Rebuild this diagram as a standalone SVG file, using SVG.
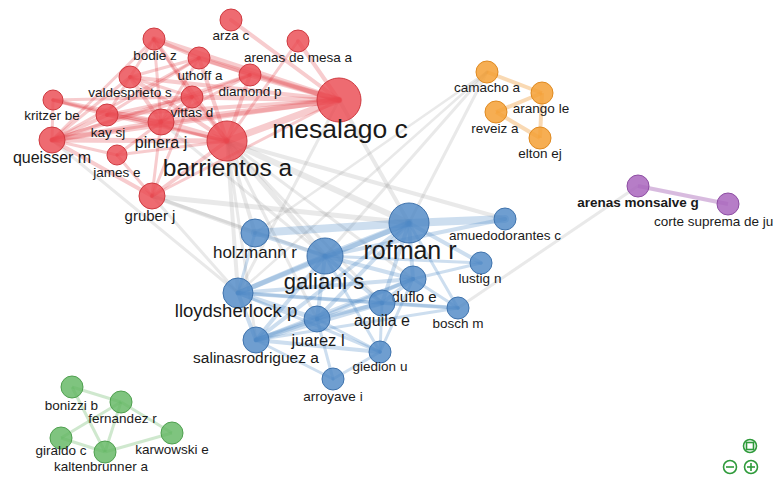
<svg xmlns="http://www.w3.org/2000/svg" width="774" height="479" viewBox="0 0 774 479">
<style>
text{font-family:"Liberation Sans",Arial,sans-serif;fill:#1a1a1a;text-anchor:middle}
.s{font-size:13.5px}
.er{stroke:#e0353c;stroke-opacity:.25;stroke-linecap:round}
.eb{stroke:#4d88c4;stroke-opacity:.28;stroke-linecap:round}
.eg{stroke:#9a9a9a;stroke-opacity:.22;stroke-linecap:round}
.eo{stroke:#f0a040;stroke-opacity:.4;stroke-width:4}
.egr{stroke:#5fb45e;stroke-opacity:.3;stroke-width:3}
.ep{stroke:#a868b8;stroke-opacity:.45;stroke-width:4}
.nr{fill:#ea4a52;fill-opacity:.82;stroke:#cf3a40;stroke-width:1}
.nb{fill:#4f89c6;fill-opacity:.82;stroke:#3f73ad;stroke-width:1}
.no{fill:#f4a035;fill-opacity:.85;stroke:#e08a20;stroke-width:1}
.ng{fill:#63b763;fill-opacity:.82;stroke:#4fa04f;stroke-width:1}
.np{fill:#a966bd;fill-opacity:.85;stroke:#8e4ea3;stroke-width:1}
.ic{fill:none;stroke:#2e9a3a;stroke-width:1.6}
</style>
<rect width="774" height="479" fill="#ffffff"/>
<g id="connectors">
<g class="eg">
<line x1="227" y1="141" x2="409" y2="223" stroke-width="6"/>
<line x1="227" y1="141" x2="325" y2="256" stroke-width="5"/>
<line x1="227" y1="141" x2="255" y2="233" stroke-width="4"/>
<line x1="227" y1="141" x2="238" y2="293" stroke-width="4"/>
<line x1="227" y1="141" x2="505" y2="219" stroke-width="4"/>
<line x1="227" y1="141" x2="317" y2="319" stroke-width="3"/>
<line x1="227" y1="141" x2="382" y2="303" stroke-width="3"/>
<line x1="227" y1="141" x2="413" y2="279" stroke-width="3"/>
<line x1="227" y1="141" x2="256" y2="340" stroke-width="3"/>
<line x1="339" y1="100" x2="409" y2="223" stroke-width="4"/>
<line x1="339" y1="100" x2="238" y2="293" stroke-width="3"/>
<line x1="152" y1="196" x2="255" y2="233" stroke-width="4"/>
<line x1="152" y1="196" x2="409" y2="223" stroke-width="5"/>
<line x1="152" y1="196" x2="238" y2="293" stroke-width="3"/>
<line x1="152" y1="196" x2="325" y2="256" stroke-width="3"/>
<line x1="52" y1="140" x2="238" y2="293" stroke-width="3"/>
<line x1="161" y1="122" x2="325" y2="256" stroke-width="3"/>
<line x1="487" y1="72" x2="409" y2="223" stroke-width="3"/>
<line x1="487" y1="72" x2="325" y2="256" stroke-width="3"/>
<line x1="487" y1="72" x2="255" y2="233" stroke-width="2.5"/>
<line x1="487" y1="72" x2="238" y2="293" stroke-width="2.5"/>
<line x1="638" y1="186" x2="458" y2="308" stroke-width="3"/>
</g>
<g class="er">
<line x1="231" y1="20" x2="339" y2="100" stroke-width="4"/>
<line x1="298" y1="41" x2="339" y2="100" stroke-width="4"/>
<line x1="298" y1="41" x2="227" y2="141" stroke-width="3"/>
<line x1="154" y1="39" x2="339" y2="100" stroke-width="6"/>
<line x1="154" y1="39" x2="199" y2="58" stroke-width="4"/>
<line x1="154" y1="39" x2="130" y2="77" stroke-width="3"/>
<line x1="154" y1="39" x2="192" y2="97" stroke-width="3"/>
<line x1="154" y1="39" x2="161" y2="122" stroke-width="3"/>
<line x1="154" y1="39" x2="227" y2="141" stroke-width="4"/>
<line x1="154" y1="39" x2="52" y2="140" stroke-width="3"/>
<line x1="199" y1="58" x2="339" y2="100" stroke-width="5"/>
<line x1="199" y1="58" x2="250" y2="75" stroke-width="3"/>
<line x1="199" y1="58" x2="227" y2="141" stroke-width="4"/>
<line x1="199" y1="58" x2="161" y2="122" stroke-width="3"/>
<line x1="199" y1="58" x2="130" y2="77" stroke-width="3"/>
<line x1="199" y1="58" x2="107" y2="115" stroke-width="3"/>
<line x1="199" y1="58" x2="52" y2="140" stroke-width="3"/>
<line x1="250" y1="75" x2="339" y2="100" stroke-width="5"/>
<line x1="250" y1="75" x2="227" y2="141" stroke-width="4"/>
<line x1="250" y1="75" x2="192" y2="97" stroke-width="3"/>
<line x1="250" y1="75" x2="161" y2="122" stroke-width="3"/>
<line x1="250" y1="75" x2="52" y2="140" stroke-width="3"/>
<line x1="130" y1="77" x2="339" y2="100" stroke-width="4"/>
<line x1="130" y1="77" x2="161" y2="122" stroke-width="4"/>
<line x1="130" y1="77" x2="52" y2="140" stroke-width="3"/>
<line x1="130" y1="77" x2="107" y2="115" stroke-width="3"/>
<line x1="130" y1="77" x2="227" y2="141" stroke-width="4"/>
<line x1="130" y1="77" x2="192" y2="97" stroke-width="3"/>
<line x1="192" y1="97" x2="339" y2="100" stroke-width="5"/>
<line x1="192" y1="97" x2="227" y2="141" stroke-width="4"/>
<line x1="192" y1="97" x2="161" y2="122" stroke-width="4"/>
<line x1="192" y1="97" x2="52" y2="140" stroke-width="4"/>
<line x1="192" y1="97" x2="107" y2="115" stroke-width="3"/>
<line x1="192" y1="97" x2="152" y2="196" stroke-width="3"/>
<line x1="53" y1="100" x2="52" y2="140" stroke-width="3"/>
<line x1="53" y1="100" x2="161" y2="122" stroke-width="4"/>
<line x1="53" y1="100" x2="192" y2="97" stroke-width="3"/>
<line x1="53" y1="100" x2="227" y2="141" stroke-width="3"/>
<line x1="53" y1="100" x2="107" y2="115" stroke-width="3"/>
<line x1="107" y1="115" x2="52" y2="140" stroke-width="4"/>
<line x1="107" y1="115" x2="161" y2="122" stroke-width="4"/>
<line x1="107" y1="115" x2="339" y2="100" stroke-width="4"/>
<line x1="107" y1="115" x2="227" y2="141" stroke-width="3"/>
<line x1="161" y1="122" x2="339" y2="100" stroke-width="6"/>
<line x1="161" y1="122" x2="227" y2="141" stroke-width="6"/>
<line x1="161" y1="122" x2="52" y2="140" stroke-width="5"/>
<line x1="161" y1="122" x2="152" y2="196" stroke-width="3"/>
<line x1="161" y1="122" x2="117" y2="155" stroke-width="3"/>
<line x1="52" y1="140" x2="227" y2="141" stroke-width="5"/>
<line x1="52" y1="140" x2="339" y2="100" stroke-width="5"/>
<line x1="52" y1="140" x2="117" y2="155" stroke-width="3"/>
<line x1="52" y1="140" x2="152" y2="196" stroke-width="4"/>
<line x1="117" y1="155" x2="227" y2="141" stroke-width="3"/>
<line x1="117" y1="155" x2="152" y2="196" stroke-width="3"/>
<line x1="152" y1="196" x2="227" y2="141" stroke-width="4"/>
<line x1="152" y1="196" x2="339" y2="100" stroke-width="3"/>
<line x1="227" y1="141" x2="339" y2="100" stroke-width="7"/>
</g>
<g class="eb">
<line x1="409" y1="223" x2="255" y2="233" stroke-width="8"/>
<line x1="409" y1="223" x2="505" y2="219" stroke-width="8"/>
<line x1="409" y1="223" x2="325" y2="256" stroke-width="6"/>
<line x1="409" y1="223" x2="238" y2="293" stroke-width="5"/>
<line x1="409" y1="223" x2="413" y2="279" stroke-width="4"/>
<line x1="409" y1="223" x2="382" y2="303" stroke-width="4"/>
<line x1="409" y1="223" x2="317" y2="319" stroke-width="4"/>
<line x1="409" y1="223" x2="481" y2="263" stroke-width="4"/>
<line x1="409" y1="223" x2="458" y2="308" stroke-width="3"/>
<line x1="409" y1="223" x2="256" y2="340" stroke-width="4"/>
<line x1="325" y1="256" x2="255" y2="233" stroke-width="4"/>
<line x1="325" y1="256" x2="238" y2="293" stroke-width="5"/>
<line x1="325" y1="256" x2="413" y2="279" stroke-width="4"/>
<line x1="325" y1="256" x2="382" y2="303" stroke-width="4"/>
<line x1="325" y1="256" x2="317" y2="319" stroke-width="4"/>
<line x1="325" y1="256" x2="256" y2="340" stroke-width="4"/>
<line x1="325" y1="256" x2="505" y2="219" stroke-width="4"/>
<line x1="325" y1="256" x2="481" y2="263" stroke-width="3"/>
<line x1="325" y1="256" x2="380" y2="352" stroke-width="3"/>
<line x1="238" y1="293" x2="317" y2="319" stroke-width="5"/>
<line x1="238" y1="293" x2="382" y2="303" stroke-width="4"/>
<line x1="238" y1="293" x2="413" y2="279" stroke-width="4"/>
<line x1="238" y1="293" x2="256" y2="340" stroke-width="4"/>
<line x1="238" y1="293" x2="458" y2="308" stroke-width="3"/>
<line x1="238" y1="293" x2="380" y2="352" stroke-width="3"/>
<line x1="238" y1="293" x2="255" y2="233" stroke-width="3"/>
<line x1="317" y1="319" x2="382" y2="303" stroke-width="4"/>
<line x1="317" y1="319" x2="256" y2="340" stroke-width="5"/>
<line x1="317" y1="319" x2="413" y2="279" stroke-width="4"/>
<line x1="317" y1="319" x2="380" y2="352" stroke-width="3"/>
<line x1="317" y1="319" x2="333" y2="379" stroke-width="3"/>
<line x1="382" y1="303" x2="413" y2="279" stroke-width="4"/>
<line x1="382" y1="303" x2="256" y2="340" stroke-width="5"/>
<line x1="382" y1="303" x2="380" y2="352" stroke-width="3"/>
<line x1="382" y1="303" x2="458" y2="308" stroke-width="4"/>
<line x1="413" y1="279" x2="458" y2="308" stroke-width="3"/>
<line x1="413" y1="279" x2="256" y2="340" stroke-width="4"/>
<line x1="413" y1="279" x2="481" y2="263" stroke-width="3"/>
<line x1="413" y1="279" x2="380" y2="352" stroke-width="3"/>
<line x1="256" y1="340" x2="380" y2="352" stroke-width="4"/>
<line x1="256" y1="340" x2="333" y2="379" stroke-width="3"/>
<line x1="380" y1="352" x2="333" y2="379" stroke-width="3"/>
<line x1="256" y1="340" x2="458" y2="308" stroke-width="3"/>
</g>
<g>
<line class="eo" x1="487" y1="72" x2="542" y2="93"/>
<line class="eo" x1="542" y1="93" x2="496" y2="112" stroke-width="6"/>
<line class="eo" x1="496" y1="112" x2="540" y2="138"/>
<line class="eo" x1="542" y1="93" x2="540" y2="138" stroke-width="3"/>
</g>
<g>
<line class="egr" x1="72" y1="387" x2="121" y2="402" stroke-width="5"/>
<line class="egr" x1="72" y1="387" x2="105" y2="452"/>
<line class="egr" x1="121" y1="402" x2="105" y2="452" stroke-width="4"/>
<line class="egr" x1="121" y1="402" x2="61" y2="438"/>
<line class="egr" x1="121" y1="402" x2="172" y2="433" stroke-width="4"/>
<line class="egr" x1="61" y1="438" x2="105" y2="452" stroke-width="4"/>
<line class="egr" x1="105" y1="452" x2="172" y2="433" stroke-width="4"/>
</g>
<line class="ep" x1="638" y1="186" x2="728" y2="204"/>
</g>
<g id="arza-c"><circle class="nr" cx="231" cy="20" r="11"/><text class="s" x="231" y="40">arza c</text></g>
<g id="arenas-de-mesa-a"><circle class="nr" cx="298" cy="41" r="11"/><text class="s" x="298" y="62">arenas de mesa a</text></g>
<g id="bodie-z"><circle class="nr" cx="154" cy="39" r="11"/><text class="s" x="155" y="60">bodie z</text></g>
<g id="uthoff-a"><circle class="nr" cx="199" cy="58" r="11"/><text class="s" x="200" y="80">uthoff a</text></g>
<g id="diamond-p"><circle class="nr" cx="250" cy="75" r="11"/><text class="s" x="250" y="96">diamond p</text></g>
<g id="valdesprieto-s"><circle class="nr" cx="130" cy="77" r="11"/><text class="s" x="130" y="97">valdesprieto s</text></g>
<g id="vittas-d"><circle class="nr" cx="192" cy="97" r="11"/><text class="s" x="192" y="117">vittas d</text></g>
<g id="kritzer-be"><circle class="nr" cx="53" cy="100" r="10"/><text class="s" x="52" y="120">kritzer be</text></g>
<g id="kay-sj"><circle class="nr" cx="107" cy="115" r="11"/><text class="s" x="108" y="137">kay sj</text></g>
<g id="pinera-j"><circle class="nr" cx="161" cy="122" r="13"/><text x="161" y="148" font-size="16">pinera j</text></g>
<g id="queisser-m"><circle class="nr" cx="52" cy="140" r="13"/><text x="52" y="163" font-size="16">queisser m</text></g>
<g id="james-e"><circle class="nr" cx="117" cy="155" r="10"/><text class="s" x="117" y="177">james e</text></g>
<g id="gruber-j"><circle class="nr" cx="152" cy="196" r="13"/><text x="150" y="221" font-size="15">gruber j</text></g>
<g id="mesalago-c"><circle class="nr" cx="339" cy="100" r="22"/><text x="340" y="138" font-size="26.5">mesalago c</text></g>
<g id="barrientos-a"><circle class="nr" cx="227" cy="141" r="20"/><text x="227.5" y="176" font-size="24.5">barrientos a</text></g>
<g id="holzmann-r"><circle class="nb" cx="255" cy="233" r="14"/><text x="255" y="258" font-size="17">holzmann r</text></g>
<g id="rofman-r"><circle class="nb" cx="409" cy="223" r="20"/><text x="410" y="259" font-size="25">rofman r</text></g>
<g id="amuedodorantes-c"><circle class="nb" cx="505" cy="219" r="11"/><text class="s" x="505" y="240">amuedodorantes c</text></g>
<g id="galiani-s"><circle class="nb" cx="325" cy="256" r="18"/><text x="324" y="289" font-size="22">galiani s</text></g>
<g id="lustig-n"><circle class="nb" cx="481" cy="263" r="11"/><text class="s" x="480" y="283">lustig n</text></g>
<g id="duflo-e"><circle class="nb" cx="413" cy="279" r="13"/><text x="414" y="302" font-size="15">duflo e</text></g>
<g id="lloydsherlock-p"><circle class="nb" cx="238" cy="293" r="15"/><text x="236" y="317" font-size="18.5">lloydsherlock p</text></g>
<g id="aguila-e"><circle class="nb" cx="382" cy="303" r="13"/><text x="382" y="326" font-size="16">aguila e</text></g>
<g id="bosch-m"><circle class="nb" cx="458" cy="308" r="11"/><text class="s" x="458" y="328">bosch m</text></g>
<g id="juarez-l"><circle class="nb" cx="317" cy="319" r="13"/><text x="318" y="346" font-size="16.5">juarez l</text></g>
<g id="salinasrodriguez-a"><circle class="nb" cx="256" cy="340" r="13"/><text x="256" y="363" font-size="15.5">salinasrodriguez a</text></g>
<g id="giedion-u"><circle class="nb" cx="380" cy="352" r="11"/><text class="s" x="380" y="371">giedion u</text></g>
<g id="arroyave-i"><circle class="nb" cx="333" cy="379" r="11"/><text class="s" x="333" y="401">arroyave i</text></g>
<g id="camacho-a"><circle class="no" cx="487" cy="72" r="11"/><text class="s" x="487" y="92">camacho a</text></g>
<g id="arango-le"><circle class="no" cx="542" cy="93" r="11"/><text class="s" x="541" y="113">arango le</text></g>
<g id="reveiz-a"><circle class="no" cx="496" cy="112" r="11"/><text class="s" x="495" y="133">reveiz a</text></g>
<g id="elton-ej"><circle class="no" cx="540" cy="138" r="11"/><text class="s" x="540" y="158">elton ej</text></g>
<g id="arenas-monsalve-g"><circle class="np" cx="638" cy="186" r="11"/><text class="s" x="638" y="207" font-weight="bold">arenas monsalve g</text></g>
<g id="corte-suprema"><circle class="np" cx="728" cy="204" r="11"/><text class="s" x="654" y="226" style="text-anchor:start">corte suprema de ju</text></g>
<g id="bonizzi-b"><circle class="ng" cx="72" cy="387" r="11"/><text class="s" x="71.5" y="410">bonizzi b</text></g>
<g id="fernandez-r"><circle class="ng" cx="121" cy="402" r="11"/><text class="s" x="122.5" y="423">fernandez r</text></g>
<g id="giraldo-c"><circle class="ng" cx="61" cy="438" r="11"/><text class="s" x="61" y="455">giraldo c</text></g>
<g id="kaltenbrunner-a"><circle class="ng" cx="105" cy="452" r="11"/><text class="s" x="101" y="471">kaltenbrunner a</text></g>
<g id="karwowski-e"><circle class="ng" cx="172" cy="433" r="11"/><text class="s" x="172" y="454">karwowski e</text></g>
<g id="controls">
<circle class="ic" cx="750" cy="446" r="6.5"/>
<rect class="ic" x="746.5" y="442.5" width="7" height="7" stroke-width="1.3"/>
<circle class="ic" cx="730" cy="467" r="6.5"/>
<line class="ic" x1="726" y1="467" x2="734" y2="467" stroke-width="2.2"/>
<circle class="ic" cx="751" cy="467" r="6.5"/>
<line class="ic" x1="747" y1="467" x2="755" y2="467" stroke-width="2.2"/>
<line class="ic" x1="751" y1="463" x2="751" y2="471" stroke-width="2.2"/>
</g>
</svg>
